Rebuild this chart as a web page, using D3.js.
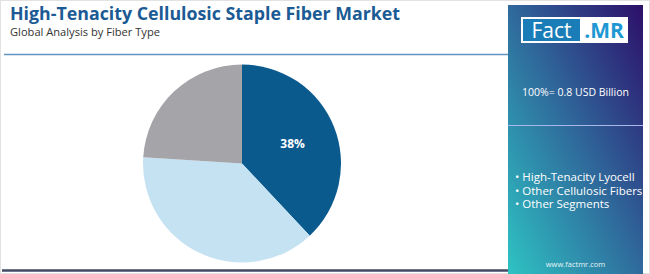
<!DOCTYPE html>
<html>
<head>
<meta charset="utf-8">
<script src="https://cdn.jsdelivr.net/npm/d3@7"></script>
<style>
  body { margin: 0; background: #fff; }
  svg { display: block; font-family: "Open Sans", "DejaVu Sans", sans-serif; }
</style>
</head>
<body>
<div id="chart"></div>
<script>
const categories = ['High-Tenacity Lyocell', 'Other Cellulosic Fibers', 'Other Segments'];
const shares = [38, 38, 24];
const sliceColors = ['#0b5a8e', '#c5e2f2', '#a5a4a9'];
const shownLabels = ['38%', '', ''];

const W = 650, H = 274;

const svg = d3.select('#chart').append('svg')
  .attr('width', W)
  .attr('height', H);

// outer frame
svg.append('rect')
  .attr('x', 0.5).attr('y', 0.5)
  .attr('width', W - 1).attr('height', H - 1)
  .attr('fill', '#fff')
  .attr('stroke', '#e2e2e2');

// title block
svg.append('text')
  .attr('x', 10).attr('y', 20)
  .attr('font-size', 18.5).attr('font-weight', 700)
  .attr('fill', '#1b5a94')
  .attr('textLength', 390).attr('lengthAdjust', 'spacingAndGlyphs')
  .text('High-Tenacity Cellulosic Staple Fiber Market');

svg.append('text')
  .attr('x', 10).attr('y', 36)
  .attr('font-size', 11)
  .attr('fill', '#333')
  .attr('textLength', 150).attr('lengthAdjust', 'spacingAndGlyphs')
  .text('Global Analysis by Fiber Type');

svg.append('line')
  .attr('x1', 4).attr('x2', 508)
  .attr('y1', 54.5).attr('y2', 54.5)
  .attr('stroke', '#5f93c2').attr('stroke-width', 1.5);

svg.append('line')
  .attr('x1', 2).attr('x2', 508)
  .attr('y1', 270.5).attr('y2', 270.5)
  .attr('stroke', '#434a66').attr('stroke-width', 2.5);

// side panel
const defs = svg.append('defs');
const grad = defs.append('linearGradient')
  .attr('id', 'panelGrad')
  .attr('x1', '0%').attr('y1', '100%')
  .attr('x2', '100%').attr('y2', '0%');
grad.append('stop').attr('offset', '0%').attr('stop-color', '#2ec3c3');
grad.append('stop').attr('offset', '50%').attr('stop-color', '#2f6a9c');
grad.append('stop').attr('offset', '100%').attr('stop-color', '#2d0f6a');

const panel = svg.append('g');
panel.append('rect')
  .attr('x', 508).attr('y', 5)
  .attr('width', 135).attr('height', 269)
  .attr('fill', 'url(#panelGrad)');

panel.append('line')
  .attr('x1', 508).attr('x2', 643)
  .attr('y1', 125.5).attr('y2', 125.5)
  .attr('stroke', '#a9b8ea').attr('stroke-width', 1.2);

// logo
panel.append('rect')
  .attr('x', 521).attr('y', 17)
  .attr('width', 107).attr('height', 26)
  .attr('fill', '#fff');
panel.append('rect')
  .attr('x', 523).attr('y', 19)
  .attr('width', 57).attr('height', 22)
  .attr('fill', '#1a7db8');
panel.append('text')
  .attr('x', 551.5).attr('y', 38)
  .attr('text-anchor', 'middle')
  .attr('font-size', 21).attr('fill', '#fff')
  .text('Fact');
panel.append('text')
  .attr('x', 604).attr('y', 38)
  .attr('text-anchor', 'middle')
  .attr('font-size', 21).attr('font-weight', 700).attr('fill', '#1d98d3')
  .text('.MR');

panel.append('text')
  .attr('x', 575.5).attr('y', 96)
  .attr('text-anchor', 'middle')
  .attr('font-size', 10.5).attr('fill', '#fff')
  .text('100%= 0.8 USD Billion');

panel.selectAll('.legend')
  .data(categories)
  .enter()
  .append('text')
  .attr('class', 'legend')
  .attr('x', 515)
  .attr('y', (d, i) => 181 + i * 13.5)
  .attr('font-size', 11.5).attr('fill', '#fff')
  .text(d => '\u2022 ' + d);

panel.append('text')
  .attr('x', 575.5).attr('y', 267)
  .attr('text-anchor', 'middle')
  .attr('font-size', 7.5).attr('fill', '#e6f4f8')
  .text('www.factmr.com');

// pie
const cx = 242, cy = 163.5, r = 99;
const pie = d3.pie().sort(null).value(d => d);
const arc = d3.arc().innerRadius(0).outerRadius(r);
const labelArc = d3.arc().innerRadius(r * 0.55).outerRadius(r * 0.55);

const g = svg.append('g').attr('transform', `translate(${cx},${cy})`);
const arcs = pie(shares);

g.selectAll('path')
  .data(arcs)
  .enter()
  .append('path')
  .attr('d', arc)
  .attr('fill', (d, i) => sliceColors[i]);

g.selectAll('.lbl')
  .data(arcs)
  .enter()
  .append('text')
  .attr('class', 'lbl')
  .attr('transform', d => `translate(${labelArc.centroid(d)})`)
  .attr('dy', '.35em')
  .attr('text-anchor', 'middle')
  .attr('font-size', 12).attr('font-weight', 700)
  .attr('fill', '#fff')
  .text((d, i) => shownLabels[i]);
</script>
</body>
</html>
